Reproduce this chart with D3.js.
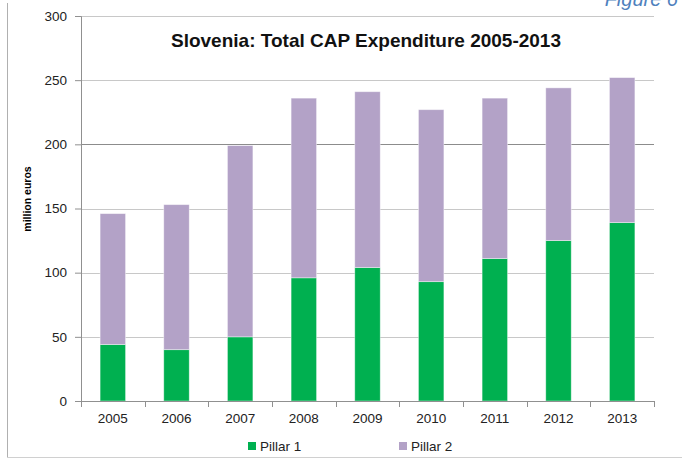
<!DOCTYPE html>
<html>
<head>
<meta charset="utf-8">
<script src="https://cdn.jsdelivr.net/npm/d3@7"></script>
<style>
	body { margin: 0; background: #fff; }
	svg { font-family: "Liberation Sans", Arial, sans-serif; }
</style>
</head>
<body>
<svg class="chart" width="682" height="459"></svg>
<script>
// chart data
var years = ["2005", "2006", "2007", "2008", "2009", "2010", "2011", "2012", "2013"];
var pillar1 = [44, 40, 50, 96, 104, 93, 111, 125, 139];
var pillar2 = [102, 113, 149, 140, 137, 134, 125, 119, 113];
var yTicks = [0, 50, 100, 150, 200, 250, 300];
var seriesNames = ["Pillar 1", "Pillar 2"];
var colors = ["#00B050", "#B3A2C7"];

var svg = d3.select("svg.chart");

// frame lines (left and bottom only)
svg.append("line").attr("x1", 7.5).attr("x2", 7.5).attr("y1", 3).attr("y2", 457.5)
	.attr("stroke", "#b0b0b0");
svg.append("line").attr("x1", 7).attr("x2", 682).attr("y1", 457.5).attr("y2", 457.5)
	.attr("stroke", "#d0d0d0");

// "Figure 6" caption, cut by the top edge as in the source page
svg.append("text")
	.attr("x", 678).attr("y", 6)
	.attr("text-anchor", "end")
	.style("font-size", "20px")
	.style("font-style", "italic")
	.style("fill", "#4F81BD")
	.text("Figure 6");

var margin = {left: 81, right: 28, top: 16, bottom: 58};
var width = 682 - margin.left - margin.right;
var height = 459 - margin.top - margin.bottom;

var g = svg.append("g").attr("transform", "translate(" + margin.left + "," + margin.top + ")");

var x = d3.scaleBand().domain(years).range([0, width]).paddingInner(0.6).paddingOuter(0.3);
var xAxisScale = d3.scaleBand().domain(years).range([0, width]);
var y = d3.scaleLinear().domain([0, 300]).range([height, 0]);

// gridlines
g.selectAll("line.grid")
	.data(yTicks.filter(function(d) { return d > 0; }))
	.enter().append("line")
	.attr("class", "grid")
	.attr("x1", 0).attr("x2", width)
	.attr("y1", function(d) { return Math.round(y(d)) + 0.5; })
	.attr("y2", function(d) { return Math.round(y(d)) + 0.5; })
	.attr("stroke", function(d) { return d == 200 ? "#8c8c8c" : "#c8c8c8"; })
	.attr("stroke-width", 1.2);

// stack the series
var rows = years.map(function(yr, i) {
	return {year: yr, p1: pillar1[i], p2: pillar2[i]};
});
var stack = d3.stack().keys(["p1", "p2"]);
var layers = stack(rows);

g.selectAll("g.layer")
	.data(layers)
	.enter().append("g")
	.attr("class", "layer")
	.attr("fill", function(d, i) { return colors[i]; })
	.selectAll("rect")
	.data(function(d) { return d; })
	.enter().append("rect")
	.attr("x", function(d) { return x(d.data.year); })
	.attr("width", x.bandwidth())
	.attr("y", function(d) { return y(d[1]); })
	.attr("height", function(d) { return y(d[0]) - y(d[1]); })
	.attr("stroke", "#ffffff")
	.attr("stroke-opacity", 0.5)
	.attr("stroke-width", 0.8);

// y axis
var yAxis = g.append("g")
	.call(d3.axisLeft(y).tickValues(yTicks).tickSize(6).tickPadding(8));
yAxis.select(".domain").attr("stroke", "#909090");
yAxis.selectAll(".tick line").attr("stroke", "#909090");
yAxis.selectAll(".tick text").style("font-size", "13.5px").style("fill", "#222");

// x axis
var xAxis = g.append("g")
	.attr("transform", "translate(0," + height + ")")
	.call(d3.axisBottom(xAxisScale).tickSize(0).tickPadding(12));
xAxis.select(".domain").attr("stroke", "#909090");
xAxis.selectAll(".tick text").style("font-size", "13.5px").style("fill", "#222");
// category separators
xAxis.selectAll("line.sep")
	.data(d3.range(years.length + 1))
	.enter().append("line")
	.attr("class", "sep")
	.attr("x1", function(i) { return Math.round(i * xAxisScale.step()) + 0.5; })
	.attr("x2", function(i) { return Math.round(i * xAxisScale.step()) + 0.5; })
	.attr("y1", 0).attr("y2", 6)
	.attr("stroke", "#909090");

// y axis title
svg.append("text")
	.attr("transform", "translate(31,199) rotate(-90)")
	.attr("text-anchor", "middle")
	.style("font-size", "10.5px")
	.style("font-weight", "bold")
	.text("million euros");

// chart title
svg.append("text")
	.attr("x", 366).attr("y", 47)
	.attr("text-anchor", "middle")
	.style("font-size", "19px")
	.style("font-weight", "bold")
	.style("fill", "#111")
	.text("Slovenia: Total CAP Expenditure 2005-2013");

// legend
var legendX = [248, 399];
var legend = svg.selectAll("g.legend")
	.data(seriesNames)
	.enter().append("g")
	.attr("class", "legend")
	.attr("transform", function(d, i) { return "translate(" + legendX[i] + ",442)"; });
legend.append("rect")
	.attr("width", 8).attr("height", 8)
	.attr("fill", function(d, i) { return colors[i]; });
legend.append("text")
	.attr("x", 12).attr("y", 9)
	.style("font-size", "13.5px")
	.style("fill", "#222")
	.text(function(d) { return d; });
</script>
</body>
</html>
